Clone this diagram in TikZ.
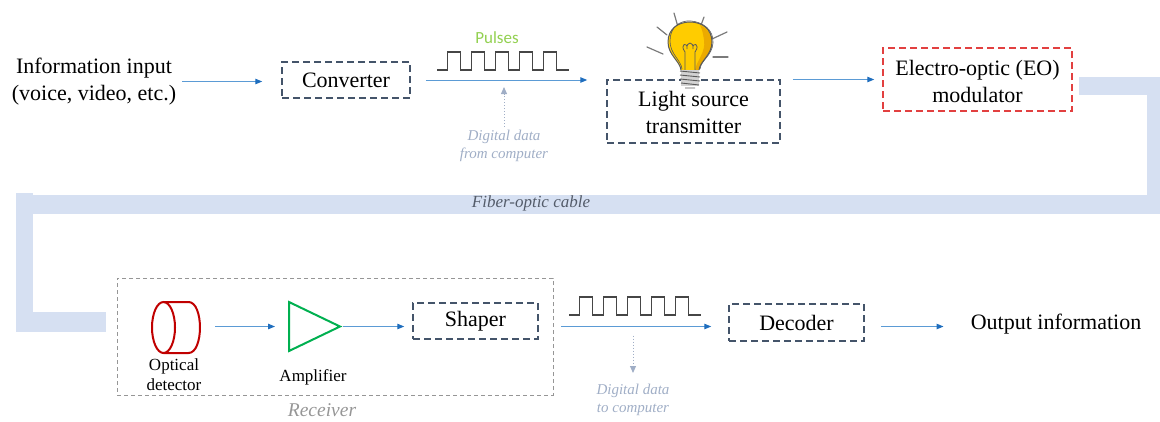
\documentclass[tikz,border=0pt]{standalone}
\usepackage{fontspec}
\setmainfont{Liberation Serif}
\newfontfamily\calibfont{Carlito}
\usetikzlibrary{arrows.meta}
\definecolor{arrline}{RGB}{91,155,213}
\definecolor{arrhead}{RGB}{31,110,190}
\definecolor{boxblue}{RGB}{68,84,106}
\definecolor{eored}{RGB}{226,64,64}
\definecolor{fiber}{RGB}{214,224,242}
\definecolor{detred}{RGB}{192,0,0}
\definecolor{ampgreen}{RGB}{0,176,80}
\definecolor{pulsegreen}{RGB}{146,208,80}
\definecolor{datagray}{RGB}{160,174,198}
\definecolor{wavegray}{RGB}{70,70,70}
\definecolor{cablegray}{RGB}{84,92,106}
\definecolor{recgray}{RGB}{150,150,150}
\definecolor{bulbyellow}{RGB}{255,204,0}
\definecolor{bulbdark}{RGB}{235,170,0}
\definecolor{bulbline}{RGB}{90,90,90}

\begin{document}
\begin{tikzpicture}[x=1pt,y=-1pt,
  txt/.style={font=\fontsize{22}{27}\selectfont, align=center, inner sep=0pt},
  small/.style={font=\fontsize{17}{20}\selectfont, align=center, inner sep=0pt},
  note/.style={font=\fontsize{15}{18}\selectfont\itshape, text=datagray, align=center, inner sep=0pt},
  dbox/.style={draw=boxblue, line width=1.5pt, dash pattern=on 7pt off 4pt, inner sep=0pt,
    font=\fontsize{22}{27}\selectfont},
  arr/.style={draw=arrline, line width=1pt, -{Triangle[length=7pt,width=5.5pt,color=arrhead]}},
  dotarr/.style={draw=datagray, line width=1pt, dash pattern=on 1.5pt off 1.5pt,
    -{Triangle[length=7pt,width=6pt,color=datagray]}},
  wave/.style={draw=wavegray, line width=1.5pt, line join=miter},
  ray/.style={draw=bulbline!80, line width=1.2pt, line cap=round},
  pics/pulsetrain/.style={code={
    \draw[wave] (0,0) -- (10.5,0)
      \foreach \k in {0,...,4}{ -- ++(0,-18) -- ++(13,0) -- ++(0,18) -- ++(11,0) }
      -- ++(1.5,0);}},
]
\useasboundingbox (0,0) rectangle (1160,421);

% fiber-optic cable band
\fill[fiber] (1079,77) rectangle (1160,95);
\fill[fiber] (1147,77) rectangle (1160,214);
\fill[fiber] (16,195) rectangle (1160,214);
\fill[fiber] (16,193) rectangle (33,332);
\fill[fiber] (16,312) rectangle (106,332);
\node[font=\fontsize{17}{20}\selectfont\itshape, text=cablegray, inner sep=0pt] (cable) at (531,203) {Fiber-optic cable};

% transmitter chain
\node[txt] (input) at (94,81.5) {Information input\\(voice, video, etc.)};
\node[dbox, minimum width=128pt, minimum height=36pt] (conv) at (346,80) {Converter};
\node[font=\calibfont\fontsize{17}{20}\selectfont, text=pulsegreen, inner sep=0pt] (pulses) at (497,38) {Pulses};
\pic at (437,70) {pulsetrain};
\node[note] (dd1) at (504,146) {Digital data\\from computer};
\node[dbox, minimum width=173pt, minimum height=63pt] (light) at (693.5,111.5) {};
\node[txt] (lighttxt) at (693.5,112) {Light source\\transmitter};
\node[dbox, draw=eored, minimum width=189pt, minimum height=63pt] (eo) at (977.5,79.5) {};
\node[txt] (eotxt) at (977.5,81) {Electro-optic (EO)\\modulator};

% light bulb over the source
\draw[ray] (674,13) -- (678,27);
\draw[ray] (704,17) -- (700,28);
\draw[ray] (727,32) -- (712,39);
\draw[ray] (728,57) -- (713,57);
\draw[ray] (647,47) -- (663,54);
\draw[ray] (657,27) -- (667,35);
\fill[bulbyellow] (681,70) .. controls (680,61) and (668,55) .. (668,42)
  .. controls (668,29) and (678,22) .. (690,22) .. controls (702,22) and (712,29) .. (712,42)
  .. controls (712,55) and (700,61) .. (699,70) -- cycle;
\fill[bulbdark] (700,25) .. controls (708,29) and (712,35) .. (712,42)
  .. controls (712,55) and (700,61) .. (699,70) -- (695,70) .. controls (697,60) and (706,52) .. (704,40)
  .. controls (703,33) and (702,29) .. (700,25) -- cycle;
\draw[bulbline, line width=1pt] (681,70) .. controls (680,61) and (668,55) .. (668,42)
  .. controls (668,29) and (678,22) .. (690,22) .. controls (702,22) and (712,29) .. (712,42)
  .. controls (712,55) and (700,61) .. (699,70);
\draw[bulbline, line width=0.6pt] (682,69) .. controls (681,60) and (670,54) .. (670,41)
  .. controls (670,27) and (680,20) .. (691,21) .. controls (703,22) and (714,30) .. (713,43)
  .. controls (712,56) and (701,60) .. (700,69);
\draw[bulbline, line width=0.8pt] (685,70) -- (685,52) .. controls (679,44) and (688,41) .. (687,49)
  .. controls (686,41) and (694,41) .. (693,49) .. controls (692,41) and (701,44) .. (695,52) -- (695,70);
\fill[gray!35] (681,70) rectangle (699,86);
\draw[bulbline, line width=0.9pt] (680,71) -- (700,73) (680,75) -- (700,77) (680,79) -- (700,81)
  (681,83) -- (699,85) (685,88) -- (695,88);

% receiver chain
\node[draw=recgray, line width=1pt, dash pattern=on 4pt off 3pt, minimum width=436pt,
  minimum height=117pt, inner sep=0pt] (rx) at (335,336.5) {};
\node[font=\fontsize{19.5}{22}\selectfont\itshape, text=recgray, inner sep=0pt] (rxlbl) at (322,410) {Receiver};
\draw[detred, line width=2pt] (163.5,327.5) ellipse [x radius=11.5pt, y radius=25.5pt];
\draw[detred, line width=2pt] (163.5,302) -- (188.5,302) .. controls (203.8,302) and (203.8,353) .. (188.5,353) -- (163.5,353);
\coordinate (det) at (200,326.5);
\node[small] (detlbl) at (174,375) {Optical\\detector};
\draw[ampgreen, line width=2pt, line join=miter] (289,302) -- (340,326.5) -- (289,351) -- cycle;
\coordinate (ampin) at (289,326.5);
\coordinate (ampout) at (340,326.5);
\node[small] (amplbl) at (313,377) {Amplifier};
\node[dbox, minimum width=125pt, minimum height=36pt] (shaper) at (475.5,321) {Shaper};
\pic at (569,315) {pulsetrain};
\node[note] (dd2) at (633,400) {Digital data\\to computer};
\node[dbox, minimum width=135pt, minimum height=37pt] (dec) at (796.5,322.5) {Decoder};
\node[txt] (out) at (1056,324) {Output information};

% connectors
\draw[arr, shorten <=6pt, shorten >=19pt] (input.east) -- (input.east -| conv.west);
\draw[arr, shorten <=15pt, shorten >=19pt] (conv.east) -- (conv.east -| light.west);
\draw[dotarr, shorten <=3pt, shorten >=7pt] (dd1.north) -- (dd1.north |- conv.east);
\draw[arr, shorten <=12pt, shorten >=8pt] (light.east |- eo.west) -- (eo.west);
\draw[arr, shorten <=15pt, shorten >=14pt] (det) -- (ampin);
\draw[arr, shorten <=3pt, shorten >=8pt] (ampout) -- (ampout -| shaper.west);
\draw[arr, shorten <=22pt, shorten >=17pt] (shaper.east |- ampout) -- (dec.west |- ampout);
\draw[dotarr, shorten <=9pt, shorten >=11pt] (dd2.north |- ampout) -- (dd2.north);
\draw[arr, shorten <=16pt, shorten >=27pt] (dec.east |- ampout) -- (out.west |- ampout);
\end{tikzpicture}
\end{document}
